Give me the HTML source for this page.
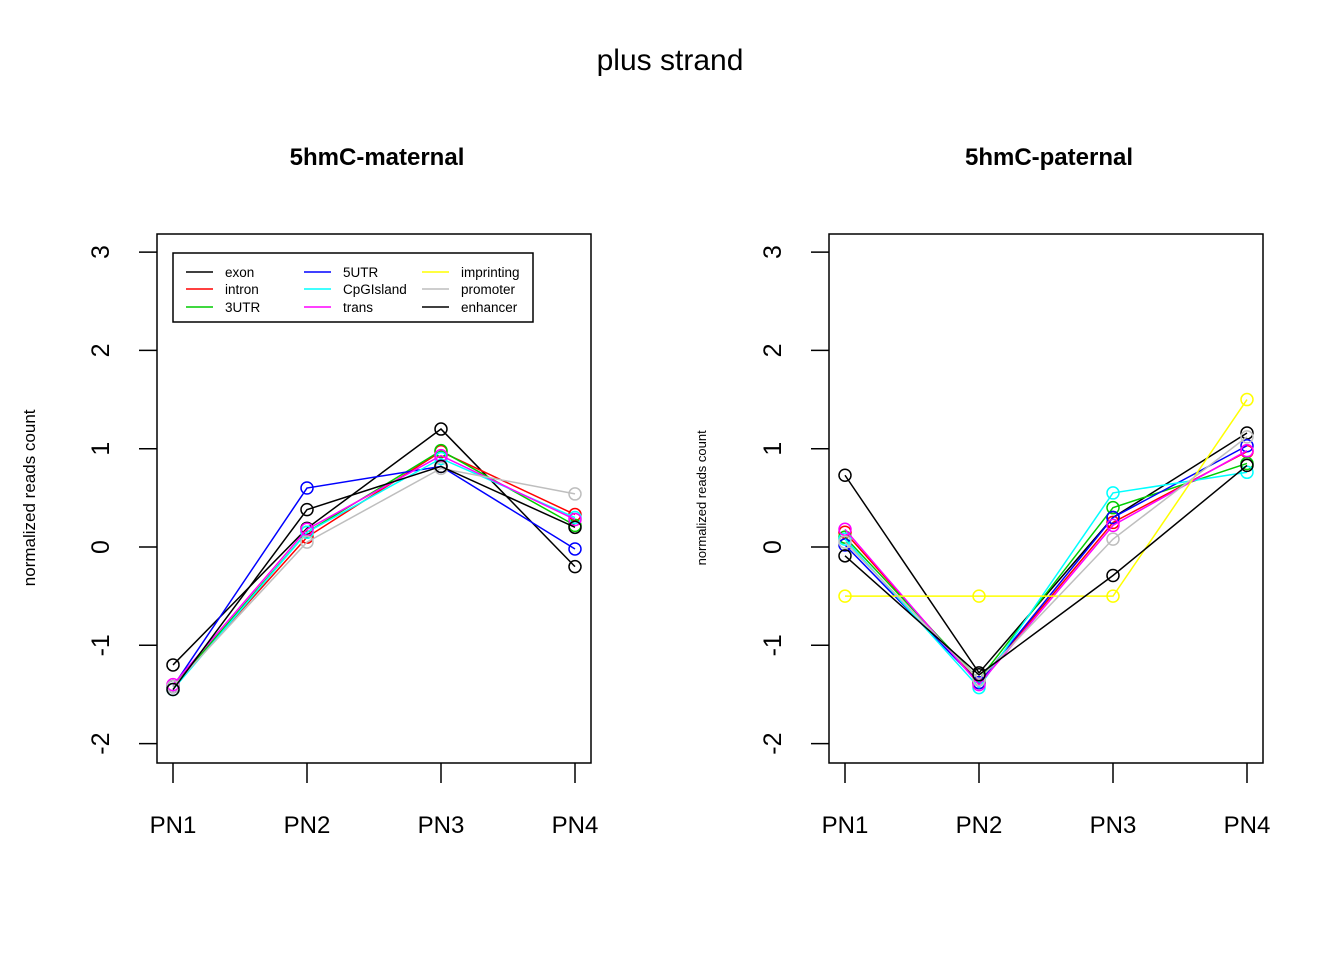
<!DOCTYPE html>
<html><head><meta charset="utf-8"><style>
body{margin:0;background:#fff}
svg text{font-family:"Liberation Sans",Arial,sans-serif}
</style></head><body>
<svg id="chart" width="1344" height="960" xmlns="http://www.w3.org/2000/svg">
<rect width="1344" height="960" fill="#fff"/>
<text x="670" y="70" font-size="30" text-anchor="middle">plus strand</text>
</svg>
<script>
const categories = ["PN1","PN2","PN3","PN4"];
const seriesNames = ["exon","intron","3UTR","5UTR","CpGIsland","trans","imprinting","promoter","enhancer"];
const seriesColors = ["#000","#f00","#0c0","#00f","#0ff","#f0f","#ff0","#bebebe","#000"];
const yTicks = [-2,-1,0,1,2,3];
const maternalExon = [-1.2, 0.19, 1.2, -0.2];
const maternalIntron = [-1.42, 0.1, 0.97, 0.33];
const maternal3UTR = [-1.42, 0.15, 0.98, 0.22];
const maternal5UTR = [-1.42, 0.6, 0.82, -0.02];
const maternalCpG = [-1.45, 0.15, 0.9, 0.3];
const maternalTrans = [-1.4, 0.18, 0.93, 0.28];
const maternalImprinting = [null, null, null, null];
const maternalPromoter = [-1.42, 0.05, 0.8, 0.54];
const maternalEnhancer = [-1.45, 0.38, 0.82, 0.2];
const paternalExon = [0.73, -1.28, 0.3, 1.16];
const paternalIntron = [0.15, -1.38, 0.25, 0.97];
const paternal3UTR = [0.1, -1.35, 0.4, 0.85];
const paternal5UTR = [0.02, -1.38, 0.3, 1.03];
const paternalCpG = [0.08, -1.43, 0.55, 0.76];
const paternalTrans = [0.18, -1.4, 0.22, 0.98];
const paternalImprinting = [-0.5, -0.5, -0.5, 1.5];
const paternalPromoter = [0.05, -1.35, 0.08, 1.12];
const paternalEnhancer = [-0.09, -1.3, -0.29, 0.83];

const NS="http://www.w3.org/2000/svg";
const svg=document.getElementById('chart');
function el(tag,attrs,parent){const e=document.createElementNS(NS,tag);for(const k in attrs)e.setAttribute(k,attrs[k]);(parent||svg).appendChild(e);return e;}

function panel(px,title,series,ytitle,ytitleSize,ytitleX,prefix){
  const g=el('g',{});
  
  
  const left=px, top=234, bottom=763;
  const xs=v=>left+16+v*134;
  const ys=v=>547-v*98.3;
  const box=el('rect',{x:left,y:top,width:434,height:529,fill:'none',stroke:'#000','stroke-width':1.5},g);
  
  
  const t=el('text',{x:left+220,y:165,'font-size':24,'font-weight':'bold','text-anchor':'middle'},g);
  t.textContent=title;
  
  
  yTicks.forEach(v=>{
    el('line',{x1:left-18,x2:left,y1:ys(v),y2:ys(v),stroke:'#000','stroke-width':1.5},g);
    const tx=el('text',{x:0,y:0,'font-size':25,'text-anchor':'middle',transform:`translate(${left-48},${ys(v)}) rotate(-90)`},g);
    tx.textContent=String(v);
    
    
  });
  const yt=el('text',{x:0,y:0,'font-size':ytitleSize,'text-anchor':'middle',transform:`translate(${ytitleX},${ys(0.5)}) rotate(-90)`},g);
  yt.textContent=ytitle;
  
  
  categories.forEach((c,i)=>{
    el('line',{x1:xs(i),x2:xs(i),y1:bottom,y2:bottom+20,stroke:'#000','stroke-width':1.5},g);
    const tx=el('text',{x:xs(i),y:833,'font-size':24,'text-anchor':'middle'},g);
    tx.textContent=c;
    
    
  });
  series.forEach((vals,si)=>{
    const pts=vals.map((v,i)=>v==null?null:[xs(i),ys(v)]).filter(p=>p);
    if(!pts.length)return;
    const sg=el('g',{},g);
    
    
    el('polyline',{points:pts.map(p=>p.join(',')).join(' '),fill:'none',stroke:seriesColors[si],'stroke-width':1.5},sg);
    pts.forEach(p=>{
      const c=el('circle',{cx:p[0],cy:p[1],r:6,fill:'none',stroke:seriesColors[si],'stroke-width':1.5},sg);
      
      
    });
  });
  return g;
}
panel(157,'5hmC-maternal',[maternalExon,maternalIntron,maternal3UTR,maternal5UTR,maternalCpG,maternalTrans,maternalImprinting,maternalPromoter,maternalEnhancer],'normalized reads count',17,35,'maternal');
panel(829,'5hmC-paternal',[paternalExon,paternalIntron,paternal3UTR,paternal5UTR,paternalCpG,paternalTrans,paternalImprinting,paternalPromoter,paternalEnhancer],'normalized reads count',13,706,'paternal');

const lg=el('g',{});


el('rect',{x:173,y:253,width:360,height:69,fill:'#fff',stroke:'#000','stroke-width':1.5},lg);
const colX=[186,304,422], rowY=[272,289,307];
seriesNames.forEach((n,i)=>{
  const c=Math.floor(i/3), r=i%3;
  const e=el('g',{},lg);
  
  
  el('line',{x1:colX[c],x2:colX[c]+27,y1:rowY[r],y2:rowY[r],stroke:seriesColors[i],'stroke-width':1.5},e);
  const t=el('text',{x:colX[c]+39,y:rowY[r]+5,'font-size':13.5},e);
  t.textContent=n;
});
</script>
</body></html>
